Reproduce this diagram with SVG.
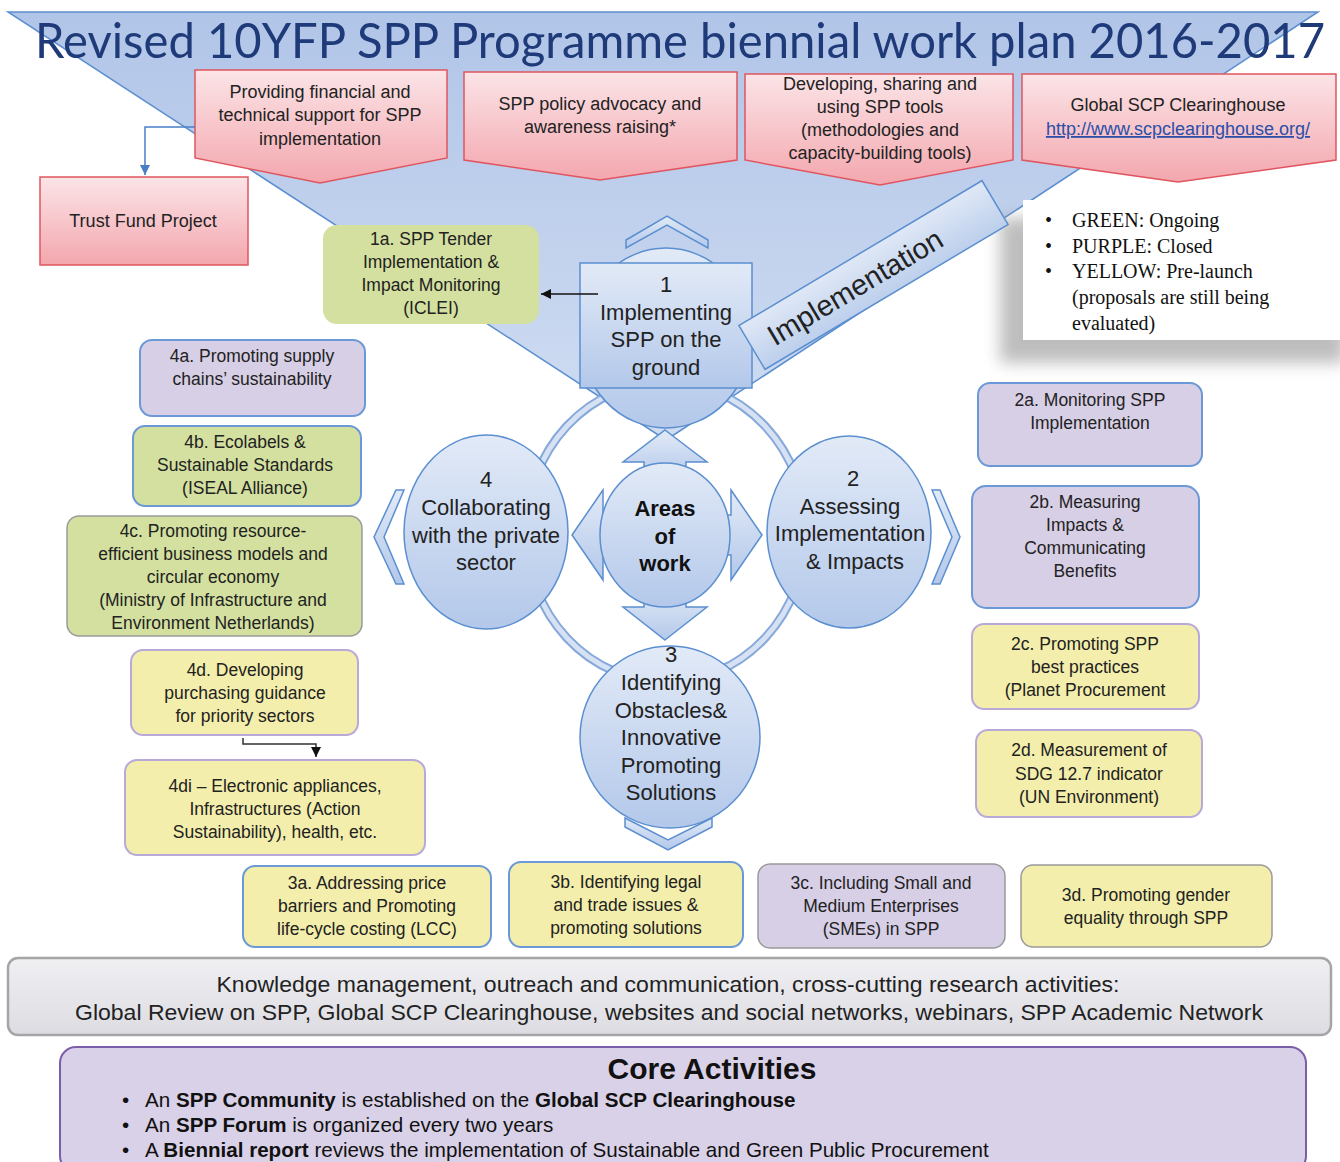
<svg xmlns="http://www.w3.org/2000/svg" width="1340" height="1162" viewBox="0 0 1340 1162">
<defs>
<linearGradient id="gTri" x1="0" y1="0" x2="0" y2="1"><stop offset="0" stop-color="#b1c5e8"/><stop offset="1" stop-color="#d0ddf2"/></linearGradient>
<linearGradient id="gPink" x1="0" y1="0" x2="0" y2="1"><stop offset="0" stop-color="#fbe4e7"/><stop offset="1" stop-color="#f3a7ae"/></linearGradient>
<linearGradient id="gBlue" x1="0" y1="0" x2="0" y2="1"><stop offset="0" stop-color="#e2eaf7"/><stop offset="1" stop-color="#b3c8ea"/></linearGradient>
<linearGradient id="gBan" x1="0" y1="0" x2="0" y2="1"><stop offset="0" stop-color="#e0e8f6"/><stop offset="1" stop-color="#bccfec"/></linearGradient>
<linearGradient id="gGray" x1="0" y1="0" x2="0" y2="1"><stop offset="0" stop-color="#f0f0f3"/><stop offset="1" stop-color="#dcdce2"/></linearGradient>
<filter id="blur" x="-20%" y="-20%" width="140%" height="140%"><feGaussianBlur stdDeviation="8"/></filter>
<marker id="aBlk" markerUnits="userSpaceOnUse" markerWidth="12" markerHeight="12" refX="10" refY="5" orient="auto"><path d="M0,0 L10,5 L0,10 z" fill="#111"/></marker>
<marker id="aBlu" markerUnits="userSpaceOnUse" markerWidth="12" markerHeight="12" refX="10" refY="5" orient="auto"><path d="M0,0 L10,5 L0,10 z" fill="#4a7fc6"/></marker>
<style>
.t{font-family:"Liberation Sans",Arial,sans-serif;fill:#222;text-anchor:middle}
.bx{font-size:17.5px}
.bn{font-size:18px}
.cr{font-size:22px}
.pink{fill:url(#gPink);stroke:#e0555f;stroke-width:1.5}
.blu{fill:url(#gBlue);stroke:#5b8fd0;stroke-width:1.5}
.grn{fill:#d3e09f}
.pur{fill:#d7cfe6}
.yel{fill:#f3eeab}
.sB{stroke:#6b98d6;stroke-width:2}
.sP{stroke:#b9a9d9;stroke-width:2}
.sG{stroke:#9a9a9a;stroke-width:1.5}
.ring{fill:none;stroke:#86a8da;stroke-width:9}
.ringi{fill:none;stroke:#d6e1f3;stroke-width:5}
.leg{font-family:"Liberation Serif","Times New Roman",serif;font-size:20px;fill:#111}
</style>
</defs>

<g id="background-triangle">
<polygon points="8,12 1318,12 666,440" fill="url(#gTri)" stroke="#5b8fd0" stroke-width="1.5"/>
</g>

<g id="title">
<text x="35" y="58" font-family="Lato,'Noto Sans',sans-serif" font-size="49" fill="#1f3a78" textLength="1290" lengthAdjust="spacingAndGlyphs">Revised 10YFP SPP Programme biennial work plan 2016-2017</text>
</g>

<g id="banner-financial">
<polygon class="pink" points="195,70 447,70 447,158 320,183 195,158"/>
<text class="t bn" x="320" y="98">Providing  financial  and</text>
<text class="t bn" x="320" y="121">technical  support  for  SPP</text>
<text class="t bn" x="320" y="145">implementation</text>
</g>
<g id="banner-advocacy">
<polygon class="pink" points="464,72 737,72 737,160 600,180 464,160"/>
<text class="t bn" x="600" y="110">SPP policy advocacy  and</text>
<text class="t bn" x="600" y="133">awareness  raising*</text>
</g>
<g id="banner-tools">
<polygon class="pink" points="745,74 1013,74 1013,160 880,185 745,160"/>
<text class="t bn" x="880" y="90">Developing,  sharing and</text>
<text class="t bn" x="880" y="113">using SPP tools</text>
<text class="t bn" x="880" y="136">(methodologies  and</text>
<text class="t bn" x="880" y="159">capacity-building tools)</text>
</g>
<g id="banner-clearinghouse">
<polygon class="pink" points="1022,74 1336,74 1336,160 1178,182 1022,160"/>
<text class="t bn" x="1178" y="111">Global  SCP Clearinghouse</text>
<text class="t bn" x="1178" y="135" style="fill:#2a4fa8;text-decoration:underline">http://www.scpclearinghouse.org/</text>
</g>

<g id="trust-fund">
<rect class="pink" x="40" y="177" width="208" height="88"/>
<text class="t bn" x="143" y="227">Trust  Fund  Project</text>
</g>

<g id="ring">
<ellipse class="ring" cx="666" cy="532" rx="140" ry="150"/>
<ellipse class="ringi" cx="666" cy="532" rx="140" ry="150"/>
</g>

<g id="legend">
<rect x="1000" y="218" width="345" height="145" fill="#888" opacity="0.55" filter="url(#blur)"/>
<rect x="1023" y="200" width="320" height="140" fill="#fff"/>
<text class="leg" x="1045" y="227">•</text><text class="leg" x="1072" y="227">GREEN:  Ongoing</text>
<text class="leg" x="1045" y="253">•</text><text class="leg" x="1072" y="253">PURPLE: Closed</text>
<text class="leg" x="1045" y="278">•</text><text class="leg" x="1072" y="278">YELLOW: Pre-launch</text>
<text class="leg" x="1072" y="304">(proposals are still  being</text>
<text class="leg" x="1072" y="330">evaluated)</text>
</g>

<g id="area-1">
<ellipse class="blu" cx="666" cy="338" rx="85" ry="90"/>
<polygon class="blu" points="626,240 667,216 708,240 708,248 667,225 626,248"/>
<rect class="blu" x="580" y="263" width="172" height="125"/>
<text class="t cr" x="666" y="292">1</text>
<text class="t cr" x="666" y="320">Implementing</text>
<text class="t cr" x="666" y="347">SPP on the</text>
<text class="t cr" x="666" y="375">ground</text>
</g>

<g id="implementation-banner">
<g transform="translate(873.5,275) rotate(-30.8)">
<rect x="-141.5" y="-25.5" width="283" height="51" fill="url(#gBan)" stroke="#5b8fd0" stroke-width="1.5"/>
<text class="t" x="-22" y="11" font-size="29">Implementation</text>
</g>
</g>

<g id="center-arrows">
<polygon class="blu" points="665,430 707,462 686,462 686,480 644,480 644,462 623,462"/>
<polygon class="blu" points="665,640 707,607 686,607 686,590 644,590 644,607 623,607"/>
<polygon class="blu" points="572,535 603,490 603,515 618,515 618,555 603,555 603,580"/>
<polygon class="blu" points="762,535 731,490 731,515 716,515 716,555 731,555 731,580"/>
<polygon class="blu" points="396,490 404,490 384,537 404,584 396,584 374,537"/>
<polygon class="blu" points="932,490 940,490 960,537 940,584 932,584 952,537"/>
<polygon class="blu" points="625,818 668,840 712,818 712,827 668,850 625,827"/>
</g>

<g id="area-4">
<ellipse class="blu" cx="486" cy="532" rx="82" ry="97"/>
<text class="t cr" x="486" y="487">4</text>
<text class="t cr" x="486" y="515">Collaborating</text>
<text class="t cr" x="486" y="543">with the private</text>
<text class="t cr" x="486" y="570">sector</text>
</g>
<g id="area-2">
<ellipse class="blu" cx="849" cy="532" rx="82" ry="96"/>
<text class="t cr" x="853" y="486">2</text>
<text class="t cr" x="850" y="514">Assessing</text>
<text class="t cr" x="850" y="541">Implementation</text>
<text class="t cr" x="855" y="569">&amp; Impacts</text>
</g>
<g id="area-3">
<ellipse class="blu" cx="670" cy="737" rx="90" ry="91"/>
<text class="t cr" x="671" y="662">3</text>
<text class="t cr" x="671" y="690">Identifying</text>
<text class="t cr" x="671" y="718">Obstacles&amp;</text>
<text class="t cr" x="671" y="745">Innovative</text>
<text class="t cr" x="671" y="773">Promoting</text>
<text class="t cr" x="671" y="800">Solutions</text>
</g>
<g id="areas-of-work">
<ellipse class="blu" cx="665" cy="535" rx="65" ry="72"/>
<text class="t cr" x="665" y="516" font-weight="bold" style="fill:#111">Areas</text>
<text class="t cr" x="665" y="544" font-weight="bold" style="fill:#111">of</text>
<text class="t cr" x="665" y="571" font-weight="bold" style="fill:#111">work</text>
</g>

<g id="box-1a">
<rect class="grn" x="323" y="225" width="216" height="99" rx="14"/>
<text class="t bx" x="431" y="245">1a. SPP Tender</text>
<text class="t bx" x="431" y="268">Implementation  &amp;</text>
<text class="t bx" x="431" y="291">Impact Monitoring</text>
<text class="t bx" x="431" y="314">(ICLEI)</text>
</g>

<g id="box-4a">
<rect class="pur sB" x="140" y="340" width="225" height="76" rx="12"/>
<text class="t bx" x="252" y="362">4a. Promoting  supply</text>
<text class="t bx" x="252" y="385">chains’  sustainability</text>
</g>
<g id="box-4b">
<rect class="grn sB" x="133" y="426" width="228" height="80" rx="12"/>
<text class="t bx" x="245" y="448">4b. Ecolabels &amp;</text>
<text class="t bx" x="245" y="471">Sustainable Standards</text>
<text class="t bx" x="245" y="494">(ISEAL Alliance)</text>
</g>
<g id="box-4c">
<rect class="grn sG" x="67" y="516" width="295" height="120" rx="12"/>
<text class="t bx" x="213" y="537">4c. Promoting  resource-</text>
<text class="t bx" x="213" y="560">efficient  business  models  and</text>
<text class="t bx" x="213" y="583">circular  economy</text>
<text class="t bx" x="213" y="606">(Ministry of Infrastructure  and</text>
<text class="t bx" x="213" y="629">Environment  Netherlands)</text>
</g>
<g id="box-4d">
<rect class="yel sP" x="131" y="650" width="227" height="85" rx="12"/>
<text class="t bx" x="245" y="676">4d. Developing</text>
<text class="t bx" x="245" y="699">purchasing  guidance</text>
<text class="t bx" x="245" y="722">for  priority  sectors</text>
</g>
<g id="box-4di">
<rect class="yel sP" x="125" y="760" width="300" height="95" rx="12"/>
<text class="t bx" x="275" y="792">4di – Electronic  appliances,</text>
<text class="t bx" x="275" y="815">Infrastructures  (Action</text>
<text class="t bx" x="275" y="838">Sustainability), health,  etc.</text>
</g>

<g id="box-2a">
<rect class="pur sB" x="978" y="383" width="224" height="83" rx="12"/>
<text class="t bx" x="1090" y="406">2a. Monitoring SPP</text>
<text class="t bx" x="1090" y="429">Implementation</text>
</g>
<g id="box-2b">
<rect class="pur sB" x="972" y="486" width="227" height="122" rx="14"/>
<text class="t bx" x="1085" y="508">2b. Measuring</text>
<text class="t bx" x="1085" y="531">Impacts &amp;</text>
<text class="t bx" x="1085" y="554">Communicating</text>
<text class="t bx" x="1085" y="577">Benefits</text>
</g>
<g id="box-2c">
<rect class="yel sP" x="972" y="624" width="227" height="85" rx="12"/>
<text class="t bx" x="1085" y="650">2c. Promoting SPP</text>
<text class="t bx" x="1085" y="673">best  practices</text>
<text class="t bx" x="1085" y="696">(Planet  Procurement</text>
</g>
<g id="box-2d">
<rect class="yel sP" x="976" y="730" width="226" height="87" rx="12"/>
<text class="t bx" x="1089" y="756">2d. Measurement  of</text>
<text class="t bx" x="1089" y="780">SDG 12.7 indicator</text>
<text class="t bx" x="1089" y="803">(UN Environment)</text>
</g>

<g id="box-3a">
<rect class="yel sB" x="243" y="866" width="248" height="81" rx="12"/>
<text class="t bx" x="367" y="889">3a. Addressing  price</text>
<text class="t bx" x="367" y="912">barriers  and Promoting</text>
<text class="t bx" x="367" y="935">life-cycle costing (LCC)</text>
</g>
<g id="box-3b">
<rect class="yel sB" x="509" y="862" width="234" height="85" rx="12"/>
<text class="t bx" x="626" y="888">3b. Identifying  legal</text>
<text class="t bx" x="626" y="911">and trade  issues &amp;</text>
<text class="t bx" x="626" y="934">promoting  solutions</text>
</g>
<g id="box-3c">
<rect class="pur sG" x="758" y="864" width="247" height="84" rx="12"/>
<text class="t bx" x="881" y="889">3c. Including  Small and</text>
<text class="t bx" x="881" y="912">Medium  Enterprises</text>
<text class="t bx" x="881" y="935">(SMEs) in SPP</text>
</g>
<g id="box-3d">
<rect class="yel sG" x="1021" y="865" width="251" height="82" rx="12"/>
<text class="t bx" x="1146" y="901">3d. Promoting  gender</text>
<text class="t bx" x="1146" y="924">equality through  SPP</text>
</g>

<g id="knowledge-management">
<rect x="8" y="958" width="1323" height="77" rx="10" fill="url(#gGray)" stroke="#a5a5a8" stroke-width="2.5"/>
<text class="t" x="668" y="992" font-size="22" textLength="903" lengthAdjust="spacingAndGlyphs">Knowledge management,  outreach  and  communication,  cross-cutting  research  activities:</text>
<text class="t" x="669" y="1020" font-size="22" textLength="1188" lengthAdjust="spacingAndGlyphs">Global Review  on SPP, Global  SCP Clearinghouse,  websites  and social networks,  webinars,  SPP Academic Network</text>
</g>

<g id="core-activities">
<rect x="60" y="1047" width="1246" height="125" rx="16" fill="#d9d1e8" stroke="#7b5ea9" stroke-width="2"/>
<text class="t" x="712" y="1079" font-size="30" font-weight="bold" style="fill:#111">Core Activities</text>
<g font-family="'Liberation Sans',Arial,sans-serif" font-size="20.6" fill="#111">
<text x="122" y="1107">•</text><text x="145" y="1107">An <tspan font-weight="bold">SPP Community</tspan> is established on the <tspan font-weight="bold">Global SCP Clearinghouse</tspan></text>
<text x="122" y="1132">•</text><text x="145" y="1132">An <tspan font-weight="bold">SPP Forum</tspan> is organized every two years</text>
<text x="122" y="1157">•</text><text x="145" y="1157">A <tspan font-weight="bold">Biennial report</tspan> reviews the implementation of Sustainable and Green Public Procurement</text>
</g>
</g>

<g id="connectors" fill="none">
<path d="M195,127 H145 V175" stroke="#4a7fc6" stroke-width="1.5" marker-end="url(#aBlu)"/>
<path d="M598,294 H541" stroke="#111" stroke-width="1.5" marker-end="url(#aBlk)"/>
<path d="M243,738 V744 H316 V757" stroke="#333" stroke-width="1.5" marker-end="url(#aBlk)"/>
</g>
</svg>
